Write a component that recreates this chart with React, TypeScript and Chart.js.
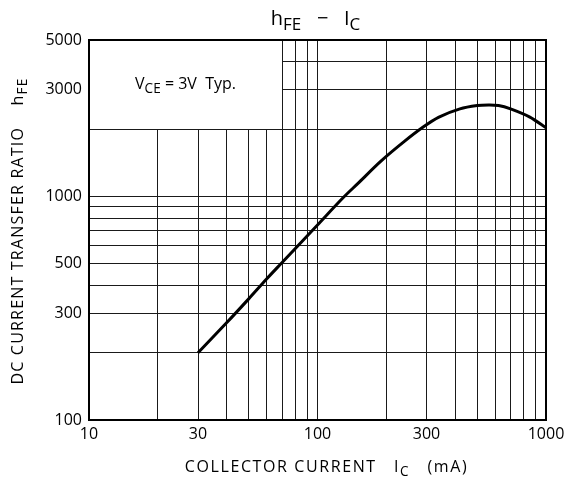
import React, { useEffect, useRef } from "react";
import { Chart, registerables } from "chart.js";

Chart.register(...registerables);

// ---- data ----
const xGrid = [10, 20, 30, 40, 50, 60, 70, 80, 90, 100, 200, 300, 400, 500, 600, 700, 800, 900, 1000];
const xLabels = [10, 30, 100, 300, 1000];
const yGrid = [100, 200, 300, 400, 500, 600, 700, 800, 900, 1000, 2000, 3000, 4000, 5000];
const yLabels = [100, 300, 500, 1000, 3000, 5000];

const icValues = [30, 40, 50, 60, 70, 80, 100, 130, 150, 190, 240, 290, 340, 420, 500, 560, 620, 700, 850, 1000];
const hfeValues = [200, 272, 348, 428, 506, 585, 745, 990, 1140, 1440, 1760, 2040, 2260, 2460, 2545, 2560, 2548, 2460, 2260, 2027];

// note box (in data units)
const boxX = [10, 70];
const boxY = [2000, 5000];

const FONT = "'Open Sans', 'Noto Sans', sans-serif";

type Seg = [string, boolean];

function drawRich(ctx: CanvasRenderingContext2D, segs: Seg[], cx: number, cy: number, size: number, spacing = 0) {
  const subSize = size * 0.85;
  ctx.save();
  (ctx as any).letterSpacing = spacing + "px";
  let total = 0;
  const widths: number[] = [];
  for (const [t, sub] of segs) {
    ctx.font = `${sub ? subSize : size}px ${FONT}`;
    const w = ctx.measureText(t).width;
    widths.push(w);
    total += w;
  }
  let x = cx - total / 2;
  ctx.textBaseline = "alphabetic";
  ctx.textAlign = "left";
  ctx.fillStyle = "#000";
  const base = cy + size * 0.36;
  segs.forEach(([t, sub], i) => {
    ctx.font = `${sub ? subSize : size}px ${FONT}`;
    ctx.fillText(t, x, sub ? base + size * 0.26 : base);
    x += widths[i];
  });
  ctx.restore();
}

const decoPlugin = {
  id: "deco",
  beforeDatasetsDraw(chart: any) {
    const { ctx, scales } = chart;
    const xs = scales.x;
    const ys = scales.y;
    const x0 = xs.getPixelForValue(boxX[0]);
    const x1 = xs.getPixelForValue(boxX[1]);
    const y0 = ys.getPixelForValue(boxY[1]);
    const y1 = ys.getPixelForValue(boxY[0]);
    ctx.save();
    ctx.fillStyle = "#fff";
    ctx.fillRect(x0, y0, x1 - x0, y1 - y0);
    ctx.strokeStyle = "#1a1a1a";
    ctx.lineWidth = 1;
    ctx.beginPath();
    const xr = Math.floor(x1) + 0.5;
    const yb = Math.floor(y1) + 0.5;
    ctx.moveTo(xr, y0);
    ctx.lineTo(xr, yb);
    ctx.lineTo(x0, yb);
    ctx.stroke();
    ctx.restore();
    drawRich(ctx, [["V", false], ["CE", true], [" = 3V  Typ.", false]], (x0 + x1) / 2, (y0 + y1) / 2 - 1, 16);
  },
  afterDatasetsDraw(chart: any) {
    const { ctx, chartArea } = chart;
    ctx.save();
    ctx.strokeStyle = "#000";
    ctx.lineWidth = 2;
    ctx.strokeRect(chartArea.left, chartArea.top, chartArea.right - chartArea.left, chartArea.bottom - chartArea.top);
    ctx.restore();
  },
  afterDraw(chart: any) {
    const { ctx, chartArea } = chart;
    const cxm = (chartArea.left + chartArea.right) / 2;
    // title
    drawRich(ctx, [["h", false], ["FE", true], ["   \u2212   ", false], ["I", false], ["C", true]], cxm - 2, chartArea.top - 22, 20);
    // x title
    drawRich(
      ctx,
      [["COLLECTOR CURRENT   ", false], ["I", false], ["C", true], ["   (mA)", false]],
      cxm + 9,
      chartArea.bottom + 46,
      16,
      1.6
    );
    // y title (rotated)
    ctx.save();
    ctx.translate(17, (chartArea.top + chartArea.bottom) / 2 + 1);
    ctx.rotate(-Math.PI / 2);
    drawRich(ctx, [["DC CURRENT TRANSFER RATIO    h", false], ["FE", true]], 0, 0, 16, 1.2);
    ctx.restore();
  },
};

export default function App() {
  const ref = useRef<HTMLCanvasElement | null>(null);
  useEffect(() => {
    if (!ref.current) return;
    const chart = new Chart(ref.current, {
      type: "line",
      data: {
        datasets: [
          {
            data: icValues.map((v, i) => ({ x: v, y: hfeValues[i] })),
            borderColor: "#000",
            borderWidth: 3,
            pointRadius: 0,
            tension: 0.3,
            fill: false,
          },
        ],
      },
      options: {
        animation: false,
        responsive: false,
        devicePixelRatio: 1,
        layout: { padding: { left: 0, right: 28, top: 40, bottom: 0 } },
        plugins: { legend: { display: false }, tooltip: { enabled: false }, title: { display: false } },
        scales: {
          x: {
            type: "logarithmic",
            min: 10,
            max: 1000,
            afterBuildTicks: (s: any) => {
              s.ticks = xGrid.map((v) => ({ value: v }));
            },
            afterFit: (s: any) => {
              s.height = 63;
            },
            grid: { color: "#1a1a1a", lineWidth: 1, drawTicks: false },
            border: { display: false },
            ticks: {
              autoSkip: false,
              maxRotation: 0,
              padding: 5,
              color: "#000",
              font: { family: FONT, size: 16 },
              callback: (v: any) => (xLabels.includes(Number(v)) ? String(v) : ""),
            },
          },
          y: {
            type: "logarithmic",
            min: 100,
            max: 5000,
            afterBuildTicks: (s: any) => {
              s.ticks = yGrid.map((v) => ({ value: v }));
            },
            afterFit: (s: any) => {
              s.width = 89;
            },
            grid: { color: "#1a1a1a", lineWidth: 1, drawTicks: false },
            border: { display: false },
            ticks: {
              autoSkip: false,
              padding: 7,
              color: "#000",
              font: { family: FONT, size: 16 },
              callback: (v: any) => (yLabels.includes(Number(v)) ? String(v) : ""),
            },
          },
        },
      },
      plugins: [decoPlugin],
    } as any);
    return () => chart.destroy();
  }, []);
  return (
    <div style={{ position: "fixed", left: 0, top: 0, width: 574, height: 483, background: "#fff" }}>
      <canvas ref={ref} width={574} height={483} style={{ display: "block" }} />
    </div>
  );
}
